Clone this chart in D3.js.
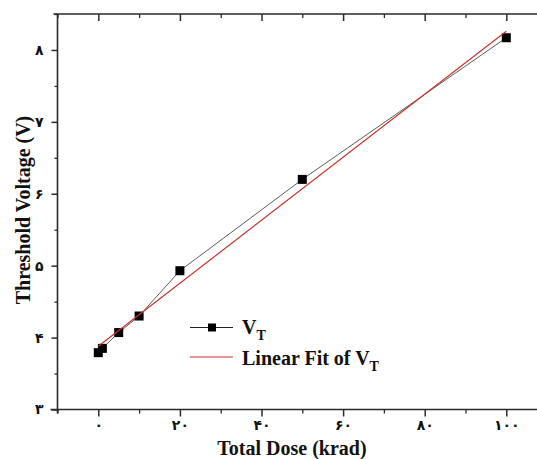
<!DOCTYPE html>
<html>
<head>
<meta charset="utf-8">
<script src="https://cdn.jsdelivr.net/npm/d3@7"></script>
<style>
html,body{margin:0;padding:0;background:#fff;}
svg{display:block;}
</style>
</head>
<body>
<script>
// ---- data ----
const doseValues = [0, 1, 5, 10, 20, 50, 100];
const vtValues = [3.79, 3.85, 4.07, 4.30, 4.93, 6.20, 8.17];
const fitX = [0, 100];
const fitY = [3.88, 8.26];
const xTickValues = [0, 20, 40, 60, 80, 100];
const xTickLabels = ["۰", "۲۰", "۴۰", "۶۰", "۸۰", "۱۰۰"];
const xMinorTicks = [-10, 10, 30, 50, 70, 90, 110];
const yTickValues = [3, 4, 5, 6, 7, 8];
const yTickLabels = ["۳", "۴", "۵", "۶", "۷", "۸"];
const yMinorTicks = [3.5, 4.5, 5.5, 6.5, 7.5, 8.5];
const xTitle = "Total Dose (krad)";
const yTitle = "Threshold Voltage (V)";

const W = 537, H = 459;
const svg = d3.select("body").append("svg").attr("width", W).attr("height", H);

const x = d3.scaleLinear().domain([-10, 110]).range([57.5, 547.1]);
const y = d3.scaleLinear().domain([3, 8.5]).range([409.5, 14]);

const axisColor = "#2a2a2a";
const labelFont = "'DejaVu Sans', sans-serif";
const titleFont = "'Liberation Serif', 'Times New Roman', serif";

// bottom axis major
const gB = svg.append("g").attr("transform", `translate(0,${y(3)})`)
  .call(d3.axisBottom(x).tickValues(xTickValues).tickSize(7).tickPadding(4)
    .tickFormat((d, i) => xTickLabels[i]));
gB.select(".domain").remove();
gB.selectAll("line").attr("stroke", axisColor).attr("stroke-width", 1.5);
gB.selectAll("text").attr("font-family", labelFont).attr("font-size", 14).attr("font-weight", "bold").attr("fill", "#111");
const gBm = svg.append("g").attr("transform", `translate(0,${y(3)})`)
  .call(d3.axisBottom(x).tickValues(xMinorTicks).tickSize(4).tickFormat(""));
gBm.select(".domain").remove();
gBm.selectAll("line").attr("stroke", axisColor).attr("stroke-width", 1.3);

// top axis ticks (inward)
const gT = svg.append("g").attr("transform", `translate(0,${y(8.5)})`)
  .call(d3.axisTop(x).tickValues(xTickValues).tickSize(-7).tickFormat(""));
gT.select(".domain").remove();
gT.selectAll("line").attr("stroke", axisColor).attr("stroke-width", 1.5);
const gTm = svg.append("g").attr("transform", `translate(0,${y(8.5)})`)
  .call(d3.axisTop(x).tickValues(xMinorTicks).tickSize(-4).tickFormat(""));
gTm.select(".domain").remove();
gTm.selectAll("line").attr("stroke", axisColor).attr("stroke-width", 1.3);

// left axis
const gL = svg.append("g").attr("transform", `translate(${x(-10)},0)`)
  .call(d3.axisLeft(y).tickValues(yTickValues).tickSize(6).tickPadding(8)
    .tickFormat((d, i) => yTickLabels[i]));
gL.select(".domain").remove();
gL.selectAll("line").attr("stroke", axisColor).attr("stroke-width", 1.5);
gL.selectAll("text").attr("font-family", labelFont).attr("font-size", 14).attr("font-weight", "bold").attr("fill", "#111");
const gLm = svg.append("g").attr("transform", `translate(${x(-10)},0)`)
  .call(d3.axisLeft(y).tickValues(yMinorTicks).tickSize(3).tickFormat(""));
gLm.select(".domain").remove();
gLm.selectAll("line").attr("stroke", axisColor).attr("stroke-width", 1.3);

// axis lines
svg.append("line").attr("x1", x(-10)).attr("x2", x(-10)).attr("y1", y(8.5)).attr("y2", y(3) + 4)
  .attr("stroke", axisColor).attr("stroke-width", 1.6);
svg.append("line").attr("x1", x(-10) - 7).attr("x2", W).attr("y1", y(3)).attr("y2", y(3))
  .attr("stroke", axisColor).attr("stroke-width", 1.6);
svg.append("line").attr("x1", x(-10) - 4).attr("x2", W).attr("y1", y(8.5)).attr("y2", y(8.5))
  .attr("stroke", axisColor).attr("stroke-width", 1.6);

// data line
const pts = doseValues.map((d, i) => [d, vtValues[i]]);
svg.append("path").datum(pts)
  .attr("d", d3.line().x(d => x(d[0])).y(d => y(d[1])))
  .attr("fill", "none").attr("stroke", "#333").attr("stroke-width", 0.8);

// markers
svg.selectAll("rect.pt").data(pts).enter().append("rect").attr("class", "pt")
  .attr("x", d => x(d[0]) - 4.5).attr("y", d => y(d[1]) - 4.5)
  .attr("width", 9).attr("height", 9).attr("fill", "#000");

// fit line
const fitPts = fitX.map((d, i) => [d, fitY[i]]);
svg.append("path").datum(fitPts)
  .attr("d", d3.line().x(d => x(d[0])).y(d => y(d[1])))
  .attr("fill", "none").attr("stroke", "#c8332f").attr("stroke-width", 1.2);

// legend
const lg = svg.append("g");
lg.append("line").attr("x1", 190).attr("x2", 233).attr("y1", 327.5).attr("y2", 327.5)
  .attr("stroke", "#222").attr("stroke-width", 1);
lg.append("rect").attr("x", 208).attr("y", 323.5).attr("width", 8).attr("height", 8).attr("fill", "#000");
const t1 = lg.append("text").attr("x", 242).attr("y", 334)
  .attr("font-family", titleFont).attr("font-weight", "bold").attr("font-size", 20).attr("fill", "#111");
t1.append("tspan").text("V");
t1.append("tspan").attr("font-size", 14).attr("dy", 6).text("T");

lg.append("line").attr("x1", 190).attr("x2", 233).attr("y1", 357).attr("y2", 357)
  .attr("stroke", "#c8332f").attr("stroke-width", 1.2);
const t2 = lg.append("text").attr("x", 242).attr("y", 365)
  .attr("font-family", titleFont).attr("font-weight", "bold").attr("font-size", 20).attr("fill", "#111");
t2.append("tspan").text("Linear Fit of V");
t2.append("tspan").attr("font-size", 14).attr("dy", 6).text("T");

// titles
svg.append("text").attr("x", 292).attr("y", 455)
  .attr("text-anchor", "middle").attr("font-family", titleFont).attr("font-weight", "bold")
  .attr("font-size", 20).attr("fill", "#111").text(xTitle);
svg.append("text").attr("transform", `translate(30,210) rotate(-90)`)
  .attr("text-anchor", "middle").attr("font-family", titleFont).attr("font-weight", "bold")
  .attr("font-size", 20).attr("fill", "#111").text(yTitle);
</script>
</body>
</html>
